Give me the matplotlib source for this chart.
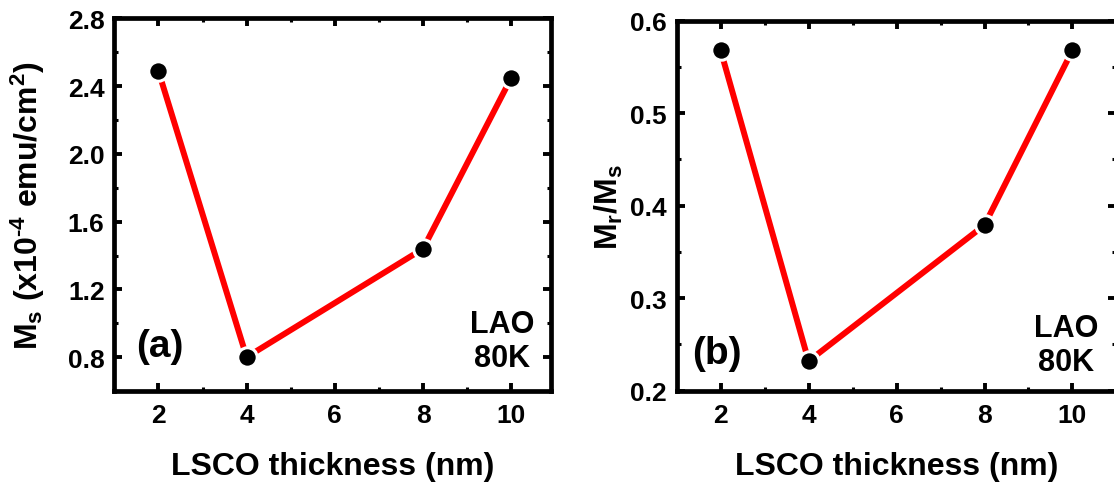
import numpy as np
import matplotlib
matplotlib.use("Agg")
import matplotlib.pyplot as plt
from matplotlib.ticker import MultipleLocator

#data
thickness = [2, 4, 8, 10]
ms_values = [2.49, 0.80, 1.44, 2.45]
mr_ms_values = [0.568, 0.232, 0.379, 0.568]
x_ticks = [2, 4, 6, 8, 10]
ms_ticks = [0.8, 1.2, 1.6, 2.0, 2.4, 2.8]
ratio_ticks = [0.2, 0.3, 0.4, 0.5, 0.6]

plt.rcParams['font.family'] = ['Liberation Sans', 'DejaVu Sans']
plt.rcParams['font.weight'] = 'bold'
plt.rcParams['mathtext.fontset'] = 'custom'
plt.rcParams['mathtext.rm'] = 'Liberation Sans:bold'
plt.rcParams['mathtext.it'] = 'Liberation Sans:bold'
plt.rcParams['mathtext.bf'] = 'Liberation Sans:bold'
plt.rcParams['mathtext.default'] = 'regular'

fig = plt.figure(figsize=(11.14, 4.85), dpi=100)
ax1 = fig.add_axes([0.1026, 0.1918, 0.392, 0.768])
ax2 = fig.add_axes([0.6074, 0.1924, 0.3948, 0.763])


def style_axis(ax):
    """common frame and tick style for both panels"""
    for sp in ax.spines.values():
        sp.set_linewidth(3.4)
    ax.tick_params(which='both', direction='in', top=True, right=True)
    ax.tick_params(which='major', length=6, width=2.8, labelsize=19)
    ax.tick_params(axis='x', which='major', pad=9)
    ax.tick_params(axis='y', which='major', pad=7)
    ax.tick_params(which='minor', length=2.8, width=2.2)
    ax.xaxis.set_minor_locator(MultipleLocator(1))
    ax.set_xticks(x_ticks)
    ax.set_xlabel('LSCO thickness (nm)', fontsize=23, fontweight='bold', labelpad=17)


#panel (a)
ax1.plot(thickness, ms_values, color='#ff0000', lw=4.3, marker='o', ms=14,
         mfc='black', mec='white', mew=2.2)
ax1.set_xlim(1, 10.9)
ax1.set_ylim(0.6, 2.8)
ax1.set_yticks(ms_ticks)
ax1.yaxis.set_minor_locator(MultipleLocator(0.2))
ax1.yaxis.set_major_formatter(matplotlib.ticker.FormatStrFormatter('%.1f'))
style_axis(ax1)
ax1.set_ylabel(r'M$_\mathregular{s}$ (x10$^{\text{-4}}$ emu/cm$^\mathregular{2}$)',
               fontsize=23, fontweight='bold', labelpad=15)
ax1.text(0.105, 0.121, '(a)', transform=ax1.transAxes, fontsize=28,
         fontweight='bold', ha='center', va='center')
ax1.text(0.888, 0.134, 'LAO\n80K', transform=ax1.transAxes, fontsize=22,
         fontweight='bold', ha='center', va='center', multialignment='center')

#panel (b)
ax2.plot(thickness, mr_ms_values, color='#ff0000', lw=4.3, marker='o', ms=14,
         mfc='black', mec='white', mew=2.2)
ax2.set_xlim(1, 11)
ax2.set_ylim(0.2, 0.6)
ax2.set_yticks(ratio_ticks)
ax2.yaxis.set_minor_locator(MultipleLocator(0.05))
ax2.yaxis.set_major_formatter(matplotlib.ticker.FormatStrFormatter('%.1f'))
style_axis(ax2)
ax2.set_ylabel(r'M$_\mathregular{r}$/M$_\mathregular{s}$',
               fontsize=23, fontweight='bold', labelpad=4)
ax2.text(0.092, 0.102, '(b)', transform=ax2.transAxes, fontsize=28,
         fontweight='bold', ha='center', va='center')
ax2.text(0.885, 0.123, 'LAO\n80K', transform=ax2.transAxes, fontsize=22,
         fontweight='bold', ha='center', va='center', multialignment='center')

fig.savefig('out.png', dpi=100)
